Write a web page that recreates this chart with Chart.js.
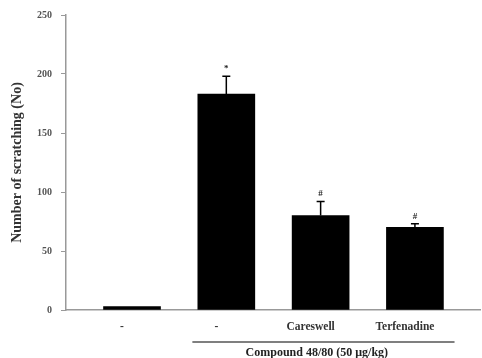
<!DOCTYPE html>
<html>
<head>
<meta charset="utf-8">
<script src="https://cdn.jsdelivr.net/npm/chart.js@4/dist/chart.umd.min.js"></script>
<style>
  html, body { margin: 0; padding: 0; background: #fff; }
  #wrap { width: 482px; height: 358px; position: relative; }
</style>
</head>
<body>
<div id="wrap"><canvas id="chart"></canvas></div>
<script>
// values
const categories = ['-', '-', 'Careswell', 'Terfenadine'];
const means = [3, 183, 80, 70];
const errors = [0, 15, 12, 3];
const marks = ['', '*', '#', '#'];
const yTicks = [0, 50, 100, 150, 200, 250];
const groupLabel = 'Compound 48/80 (50 \u03bcg/kg)';

const serif = '"Liberation Serif", "DejaVu Serif", serif';

const errorBars = {
    id: 'errorBars',
    afterDatasetsDraw(chart) {
        const ctx = chart.ctx;
        const x = chart.scales.x, y = chart.scales.y;
        ctx.save();
        ctx.strokeStyle = '#000';
        ctx.lineWidth = 1.5;
        ctx.fillStyle = '#222';
        ctx.font = 'bold 9px ' + serif;
        ctx.textAlign = 'center';
        ctx.textBaseline = 'bottom';
        means.forEach((m, i) => {
            const px = x.getPixelForValue(i);
            const top = y.getPixelForValue(m + errors[i]);
            if (errors[i] > 0) {
                ctx.beginPath();
                ctx.moveTo(px, y.getPixelForValue(m));
                ctx.lineTo(px, top);
                ctx.moveTo(px - 4, top);
                ctx.lineTo(px + 4, top);
                ctx.stroke();
            }
            if (marks[i]) ctx.fillText(marks[i], px, top - 3);
        });
        // bracket under the treated groups
        const x1 = x.getPixelForValue(0.64), x2 = x.getPixelForValue(3.42);
        const by = y.bottom + 32;
        ctx.strokeStyle = '#555';
        ctx.lineWidth = 1.5;
        ctx.beginPath();
        ctx.moveTo(x1, by);
        ctx.lineTo(x2, by);
        ctx.stroke();
        ctx.fillStyle = '#222';
        ctx.font = 'bold 12px ' + serif;
        ctx.textBaseline = 'middle';
        ctx.fillText(groupLabel, x.getPixelForValue(1.96), by + 11);
        ctx.restore();
    }
};

const data = {
    datasets: [{
        data: means.map((v, i) => ({ x: i, y: v })),
        backgroundColor: '#000',
        borderWidth: 0,
        barThickness: 57
    }]
};

const config = {
    type: 'bar',
    data: data,
    options: {
        responsive: false,
        animation: false,
        layout: { padding: { top: 14, right: 2, left: 9, bottom: 0 } },
        plugins: {
            legend: { display: false },
            tooltip: { enabled: false }
        },
        scales: {
            x: {
                type: 'linear',
                offset: false,
                min: -0.7,
                max: 3.69,
                afterBuildTicks: scale => { scale.ticks = categories.map((c, i) => ({ value: i })); },
                afterFit: scale => { scale.height = 48; },
                grid: { display: false, drawTicks: false },
                border: { color: '#999', width: 1.5 },
                ticks: {
                    callback: (v) => categories[v],
                    labelOffset: -10,
                    padding: 10,
                    color: '#333',
                    font: { family: serif, size: 11.5, weight: 'bold' },
                    maxRotation: 0,
                    autoSkip: false
                }
            },
            y: {
                min: 0,
                max: 250,
                afterBuildTicks: scale => { scale.ticks = yTicks.map(v => ({ value: v })); },
                afterFit: scale => { scale.width = 57; },
                grid: { display: true, drawOnChartArea: false, drawTicks: true, tickLength: 5, color: '#999' },
                border: { color: '#999', width: 1.5 },
                ticks: {
                    padding: 9,
                    color: '#555',
                    font: { family: serif, size: 10, weight: 'bold' }
                },
                title: {
                    display: true,
                    text: 'Number of scratching (No)',
                    color: '#333',
                    padding: { top: 0, bottom: 0 },
                    font: { family: serif, size: 14, weight: 'bold' }
                }
            }
        }
    },
    plugins: [errorBars]
};

window.onload = function() {
    const canvas = document.getElementById('chart');
    canvas.width = 482;
    canvas.height = 358;
    new Chart(canvas.getContext('2d'), config);
};
</script>
</body>
</html>
